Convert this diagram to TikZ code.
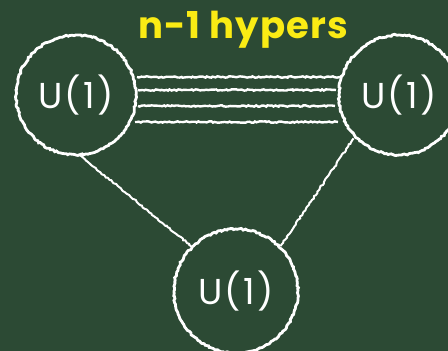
\documentclass[tikz,border=0pt]{standalone}
\usepackage{fontspec}
\setmainfont{Poppins}
\newfontfamily\gaugefont[LetterSpace=6]{Poppins}
\newfontfamily\titlefont[LetterSpace=3]{Poppins}
\usetikzlibrary{decorations.pathmorphing}
\definecolor{board}{RGB}{44,74,52}
\definecolor{chalkyellow}{RGB}{250,235,20}
\tikzset{
  chalk/.style={draw=white, line width=2.8pt, decorate, decoration={random steps, segment length=2pt, amplitude=0.8pt}},
  gauge/.style={circle, chalk, minimum size=120pt, inner sep=0pt, font=\gaugefont\fontsize{36}{38}\selectfont, text=white},
  hyper/.style={draw=white, line width=2.4pt, decorate, decoration={random steps, segment length=2pt, amplitude=0.7pt}},
}
\begin{document}
\begin{tikzpicture}[x=1pt, y=-1pt]
\useasboundingbox (0,0) rectangle (448,351);
\fill[board] (0,0) rectangle (448,351);
\clip (0,0) rectangle (448,351);
\node[gauge] (L) at (76,95) {U(1)};
\node[gauge] (R) at (399,95) {U(1)};
\node[gauge, minimum size=124pt] (B) at (236,291) {U(1)};
\node[text=chalkyellow, font=\titlefont\bfseries\fontsize{37}{40}\selectfont] (T) at (243,30) {n-1 hypers};
\coordinate (l1) at (137,77); \coordinate (r1) at (340,77);
\coordinate (l2) at (138,90); \coordinate (r2) at (336,90);
\coordinate (l3) at (138,106); \coordinate (r3) at (335,106);
\coordinate (l4) at (135,122); \coordinate (r4) at (338,122);
\draw[hyper] (l1) -- (r1);
\draw[hyper] (l2) -- (r2);
\draw[hyper] (l3) -- (r3);
\draw[hyper] (l4) -- (r4);
\draw[chalk, line width=2pt] (L.south) ++(4,-1) coordinate (ls) (ls) -- (B.north west);
\draw[chalk, line width=2pt] (R.south west) ++(-2,0) -- (B.north east);
\end{tikzpicture}
\end{document}
